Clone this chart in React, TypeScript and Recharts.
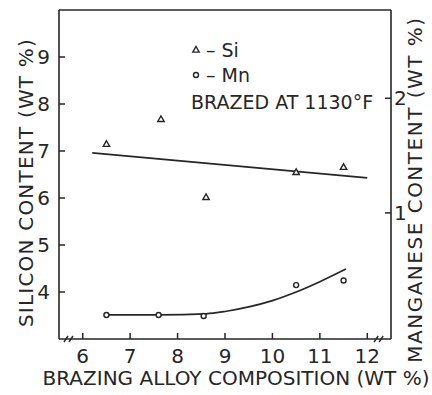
import {
    ComposedChart,
    Line,
    Scatter,
    XAxis,
    YAxis,
    ReferenceLine,
    ReferenceDot,
    Label
} from "recharts";

// brazing alloy composition (wt %) on the bottom axis
const alloyTicks = [6, 7, 8, 9, 10, 11, 12];
const siliconTicks = [4, 5, 6, 7, 8, 9];
const manganeseTicks = [1, 2];

// silicon measurements
const siAlloy = [6.5, 7.65, 8.6, 10.5, 11.5];
const siContent = [7.15, 7.68, 6.02, 6.55, 6.66];

// straight fit through the silicon values
const siFitAlloy = [6.2, 12.0];
const siFitContent = [6.96, 6.43];

// manganese measurements
const mnAlloy = [6.5, 7.6, 8.55, 10.5, 11.5];
const mnContent = [0.11, 0.11, 0.1, 0.37, 0.41];

// hand drawn manganese curve
const mnCurveAlloy = [6.5, 7.6, 8.6, 9.0, 9.5, 10.0, 10.5, 11.0, 11.55];
const mnCurveContent = [0.11, 0.11, 0.12, 0.14, 0.18, 0.235, 0.31, 0.4, 0.51];

// axis break marks sit on the bottom axis
const breakAlloy = [5.71, 12.25];

const INK = "#262626";
const FONT = "'DejaVu Sans', sans-serif";

const siPoints = siAlloy.map((a, i) => ({ alloy: a, si: siContent[i] }));
const siFit = siFitAlloy.map((a, i) => ({ alloy: a, si: siFitContent[i] }));
const mnPoints = mnAlloy.map((a, i) => ({ alloy: a, mn: mnContent[i] }));
const mnCurve = mnCurveAlloy.map((a, i) => ({ alloy: a, mn: mnCurveContent[i] }));

const LeftTick = ({ x, y, payload }: any) => (
    <g>
        <line x1={x + 9} x2={x + 15} y1={y} y2={y} stroke={INK} strokeWidth={1.5} />
        <text x={x} y={y} textAnchor="end" dominantBaseline="central" fontSize={20} fontFamily={FONT} fill={INK}>
            {payload.value}
        </text>
    </g>
);

const RightTick = ({ x, y, payload }: any) => (
    <g>
        <line x1={x - 9} x2={x - 3} y1={y} y2={y} stroke={INK} strokeWidth={1.5} />
        <text x={x} y={y} textAnchor="start" dominantBaseline="central" fontSize={20} fontFamily={FONT} fill={INK}>
            {payload.value}
        </text>
    </g>
);

const BottomTick = ({ x, y, payload }: any) => (
    <g>
        <line x1={x} x2={x} y1={y - 17} y2={y - 23} stroke={INK} strokeWidth={1.5} />
        <text x={x} y={y} textAnchor="middle" dominantBaseline="central" fontSize={20} fontFamily={FONT} fill={INK}>
            {payload.value}
        </text>
    </g>
);

const Triangle = ({ cx, cy }: any) => (
    <path d={`M${cx},${cy - 3.2} L${cx + 3.2},${cy + 2.4} L${cx - 3.2},${cy + 2.4} Z`} fill="#fff" stroke={INK} strokeWidth={1.4} />
);

const Circle = ({ cx, cy }: any) => (
    <circle cx={cx} cy={cy} r={2.5} fill="#fff" stroke={INK} strokeWidth={1.4} />
);

const BreakMark = ({ cx, cy }: any) => (
    <g stroke={INK} strokeWidth={1.4}>
        <line x1={cx - 5} y1={cy + 3} x2={cx - 1} y2={cy - 3} />
        <line x1={cx} y1={cy + 3} x2={cx + 4} y2={cy - 3} />
    </g>
);

const legendRow = {
    position: "absolute" as const,
    left: 190,
    height: 26,
    display: "flex",
    alignItems: "center",
    fontFamily: FONT,
    fontSize: 19,
    color: INK,
    whiteSpace: "nowrap" as const
};

const leftTitle = { fontFamily: FONT, fontSize: 20, fill: INK, letterSpacing: 1.2 };
const rightTitle = { fontFamily: FONT, fontSize: 20, fill: INK, letterSpacing: 1.5 };

export default function App() {
    return (
        <div style={{ position: "relative", width: 432, height: 395, background: "#fff" }}>
            <style>{"body{margin:0}"}</style>

            <ComposedChart width={432} height={395} margin={{ top: 10, right: 0, bottom: 0, left: 0 }}>
                <XAxis
                    dataKey="alloy"
                    type="number"
                    domain={[5.5, 12.5]}
                    ticks={alloyTicks}
                    interval={0}
                    height={56}
                    tickSize={0}
                    tickMargin={17}
                    tick={<BottomTick />}
                    axisLine={{ stroke: INK, strokeWidth: 1.6 }}
                >
                    <Label
                        value="BRAZING ALLOY COMPOSITION (WT %)"
                        position="center"
                        dx={11}
                        dy={11}
                        style={{ fontFamily: FONT, fontSize: 20, fill: INK }}
                    />
                </XAxis>

                <YAxis
                    yAxisId="si"
                    orientation="left"
                    type="number"
                    domain={[3, 10]}
                    ticks={siliconTicks}
                    interval={0}
                    width={59}
                    tickSize={0}
                    tickMargin={9}
                    tick={<LeftTick />}
                    axisLine={{ stroke: INK, strokeWidth: 1.6 }}
                >
                    <Label value="SILICON CONTENT (WT %)" angle={-90} position="center" dx={-4} dy={8} style={leftTitle} />
                </YAxis>

                <YAxis
                    yAxisId="mn"
                    orientation="right"
                    type="number"
                    domain={[-0.1, 2.77]}
                    ticks={manganeseTicks}
                    interval={0}
                    width={41}
                    tickSize={0}
                    tickMargin={3}
                    tick={<RightTick />}
                    axisLine={{ stroke: INK, strokeWidth: 1.6 }}
                >
                    <Label value="MANGANESE CONTENT (WT %)" angle={-90} position="center" dx={3} dy={15} style={rightTitle} />
                </YAxis>

                {/* top edge of the frame */}
                <ReferenceLine yAxisId="si" y={10} stroke={INK} strokeWidth={1.6} />

                {breakAlloy.map((a) => (
                    <ReferenceDot key={a} yAxisId="si" x={a} y={3} ifOverflow="visible" shape={<BreakMark />} />
                ))}

                <Line
                    yAxisId="si"
                    data={siFit}
                    dataKey="si"
                    type="linear"
                    stroke={INK}
                    strokeWidth={1.7}
                    dot={false}
                    isAnimationActive={false}
                />
                <Line
                    yAxisId="mn"
                    data={mnCurve}
                    dataKey="mn"
                    type="monotone"
                    stroke={INK}
                    strokeWidth={1.7}
                    dot={false}
                    isAnimationActive={false}
                />
                <Scatter yAxisId="si" data={siPoints} dataKey="si" shape={<Triangle />} isAnimationActive={false} />
                <Scatter yAxisId="mn" data={mnPoints} dataKey="mn" shape={<Circle />} isAnimationActive={false} />
            </ComposedChart>

            <div style={{ ...legendRow, top: 37 }}>
                <svg width={12} height={12}><path d="M6,2.5 L9.2,8.1 L2.8,8.1 Z" fill="#fff" stroke={INK} strokeWidth={1.4} /></svg>
                <span style={{ marginLeft: 4 }}>– Si</span>
            </div>
            <div style={{ ...legendRow, top: 62 }}>
                <svg width={12} height={12}><circle cx={6} cy={6} r={2.5} fill="#fff" stroke={INK} strokeWidth={1.4} /></svg>
                <span style={{ marginLeft: 4 }}>– Mn</span>
            </div>
            <div style={{ ...legendRow, top: 89, left: 191 }}>BRAZED AT 1130°F</div>
        </div>
    );
}
